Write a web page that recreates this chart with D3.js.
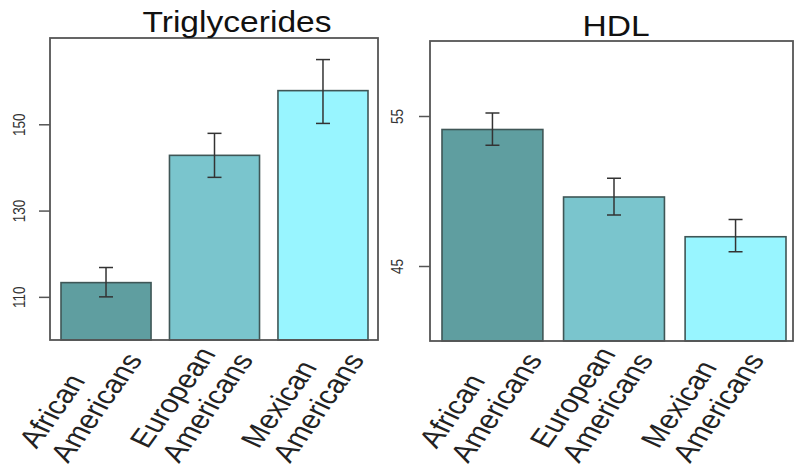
<!DOCTYPE html>
<html>
<head>
<meta charset="utf-8">
<script src="https://cdn.jsdelivr.net/npm/d3@7"></script>
<style>
  body { margin: 0; background: #fff; }
  svg { display: block; font-family: "Liberation Sans", Arial, sans-serif; }
</style>
</head>
<body>
<svg id="chart" width="795" height="469"></svg>
<script>
// groups on the x axis
var groups = ["African Americans", "European Americans", "Mexican Americans"];
var groupColors = ["#5F9EA0", "#7AC5CD", "#98F5FF"];

// triglycerides: mean and error bar ends
var trigMean = [113.3, 142.8, 157.8];
var trigLow = [110.0, 137.7, 150.2];
var trigHigh = [116.8, 147.9, 165.0];
var trigTicks = [110, 130, 150];

// HDL: mean and error bar ends
var hdlMean = [54.1, 49.6, 46.95];
var hdlLow = [53.05, 48.4, 45.95];
var hdlHigh = [55.2, 50.85, 48.1];
var hdlTicks = [45, 55];

var svg = d3.select("#chart");

/* draws one panel of the figure */
function drawPanel(opt) {
  var g = svg.append("g");

  var x = d3.scaleBand().domain(groups).range(opt.barRange).paddingInner(0.17).paddingOuter(0);
  var y = d3.scaleLinear().domain(opt.yDomain).range([opt.box.bottom, opt.box.top]);
  var lx = d3.scalePoint().domain(groups).range(opt.labelRange);

  var rows = groups.map(function(d, i) {
    return { name: d, mean: opt.mean[i], lo: opt.low[i], hi: opt.high[i], color: groupColors[i] };
  });

  // bars
  g.selectAll("rect.bar").data(rows).enter().append("rect")
    .attr("class", "bar")
    .attr("x", function(d) { return x(d.name); })
    .attr("width", x.bandwidth())
    .attr("y", function(d) { return y(d.mean); })
    .attr("height", function(d) { return opt.box.bottom - y(d.mean); })
    .style("fill", function(d) { return d.color; })
    .style("stroke", "#3f5656")
    .style("stroke-width", 1.6);

  // error bars
  var cap = 7;
  var err = g.selectAll("g.err").data(rows).enter().append("g").attr("class", "err")
    .style("stroke", "#333").style("stroke-width", 1.5);
  err.append("line")
    .attr("x1", function(d) { return x(d.name) + x.bandwidth() / 2; })
    .attr("x2", function(d) { return x(d.name) + x.bandwidth() / 2; })
    .attr("y1", function(d) { return y(d.lo); })
    .attr("y2", function(d) { return y(d.hi); });
  ["lo", "hi"].forEach(function(k) {
    err.append("line")
      .attr("x1", function(d) { return x(d.name) + x.bandwidth() / 2 - cap; })
      .attr("x2", function(d) { return x(d.name) + x.bandwidth() / 2 + cap; })
      .attr("y1", function(d) { return y(d[k]); })
      .attr("y2", function(d) { return y(d[k]); });
  });

  // frame
  g.append("rect")
    .attr("x", opt.box.left).attr("y", opt.box.top)
    .attr("width", opt.box.right - opt.box.left)
    .attr("height", opt.box.bottom - opt.box.top)
    .style("fill", "none").style("stroke", "#555").style("stroke-width", 1.8);

  // y axis ticks
  var axis = d3.axisLeft(y).tickValues(opt.ticks).tickSize(11).tickFormat(d3.format("d"));
  var ag = g.append("g").attr("transform", "translate(" + opt.box.left + ",0)").call(axis);
  ag.select(".domain").remove();
  ag.selectAll(".tick line").style("stroke", "#555").style("stroke-width", 1.5);
  ag.selectAll(".tick text")
    .attr("x", null).attr("dy", null)
    .attr("text-anchor", "middle")
    .attr("transform", "translate(" + (opt.tickLabelX - opt.box.left) + ",0) rotate(-90) scale(1,1.25)")
    .style("font-size", "13.5px")
    .style("font-family", "'Liberation Sans', Arial, sans-serif")
    .style("fill", "#333");

  // title
  g.append("text")
    .attr("transform", "translate(" + opt.titleX + "," + opt.titleY + ") scale(1.12,1)")
    .attr("text-anchor", "middle")
    .style("font-size", "30px")
    .style("fill", "#111")
    .text(opt.title);

  // rotated two-line group labels (picture is stretched sideways)
  var lab = g.selectAll("g.lab").data(groups).enter().append("g").attr("class", "lab")
    .attr("transform", function(d) { return "translate(" + lx(d) + "," + opt.labelY + ") scale(1.25,1) rotate(-60)"; })
    .style("font-size", "25.5px")
    .style("fill", "#222");
  lab.append("text").attr("x", 0).attr("y", -29)
    .text(function(d) { return d.split(" ")[0]; });
  lab.append("text").attr("x", 0).attr("y", 0)
    .text(function(d) { return d.split(" ")[1]; });
}

drawPanel({
  title: "Triglycerides", titleX: 237, titleY: 32,
  mean: trigMean, low: trigLow, high: trigHigh, ticks: trigTicks,
  yDomain: [100, 170],
  box: { left: 50, right: 378, top: 38, bottom: 340 },
  barRange: [61, 368],
  tickLabelX: 25,
  labelRange: [68, 290], labelY: 464
});

drawPanel({
  title: "HDL", titleX: 616, titleY: 36,
  mean: hdlMean, low: hdlLow, high: hdlHigh, ticks: hdlTicks,
  yDomain: [40, 60],
  box: { left: 430, right: 793, top: 41, bottom: 341 },
  barRange: [442, 786],
  tickLabelX: 403,
  labelRange: [468, 690], labelY: 464
});
</script>
</body>
</html>
